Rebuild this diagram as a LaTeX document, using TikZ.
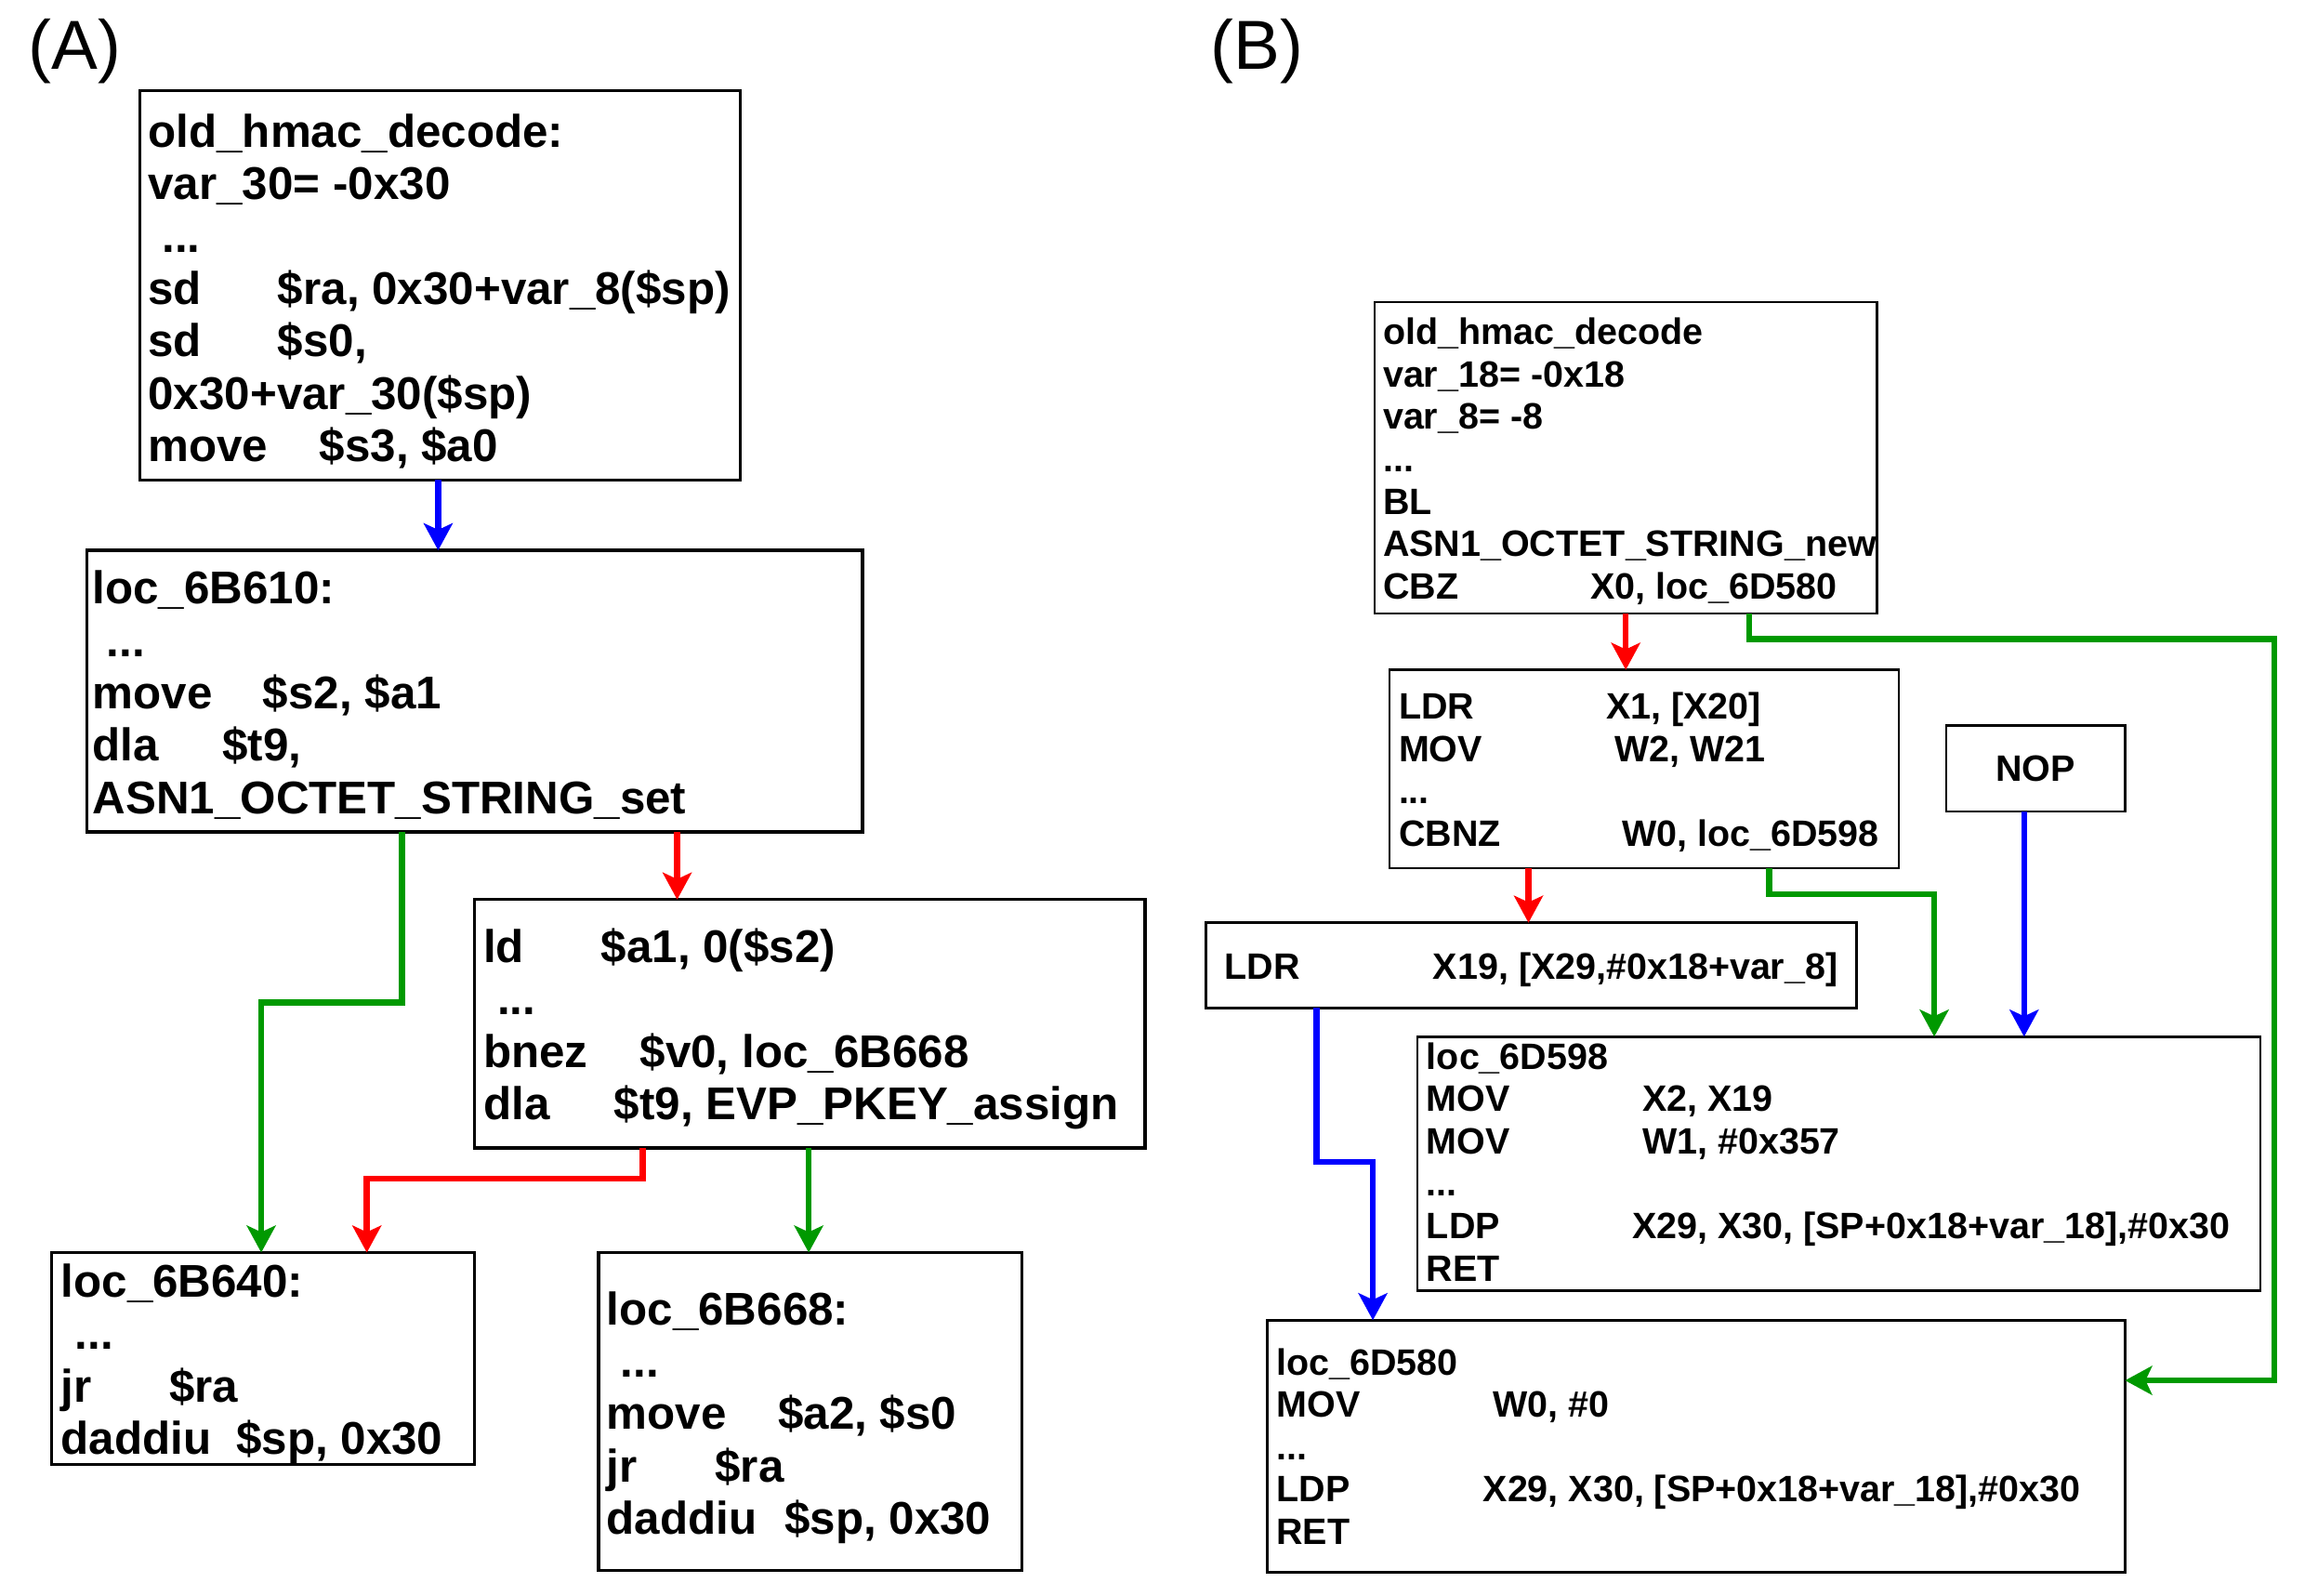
\documentclass[tikz,border=0pt]{standalone}
\usepackage{fontspec}
\setmainfont{Liberation Sans}
\usetikzlibrary{arrows.meta}
\definecolor{cred}{RGB}{255,0,0}
\definecolor{cgreen}{RGB}{0,153,0}
\definecolor{cblue}{RGB}{0,0,255}
\newlength\pxu \setlength\pxu{0.299pt}
\newcommand\ins[3]{\makebox[#2\pxu][l]{#1}#3}
\newcommand\dotsind{\hspace*{15\pxu}...}
\newcommand\atxt[1]{\parbox[t]{900\pxu}{\raggedright\fontsize{14.8pt}{16.9pt}\selectfont\bfseries #1}}
\newcommand\btxt[1]{\parbox[t]{900\pxu}{\raggedright\fontsize{11.84pt}{13.67pt}\selectfont\bfseries #1}}
\tikzset{
  box/.style n args={2}{draw, rectangle, anchor=north west, inner sep=0pt, outer sep=0pt,
     minimum width=#1*0.299pt, minimum height=#2*0.299pt},
  abox/.style={line width=1pt},
  bbox/.style={line width=0.75pt},
  txt/.style={anchor=base west, inner sep=0pt, outer sep=0pt},
  arr/.style={line width=1.95pt, -{Stealth[length=8.7pt, width=9.3pt, inset=2.1pt]}},
  rarr/.style={arr, cred},
  garr/.style={arr, cgreen},
  barr/.style={arr, cblue},
  lab/.style={anchor=base west, inner sep=0pt, font=\fontsize{22.4pt}{27pt}\selectfont}
}
\begin{document}
\begin{tikzpicture}[x=0.299pt, y=-0.299pt]
\path[use as bounding box, fill=white] (0,0) rectangle (2502.3,1721.7);

% labels
\node[lab] (labA) at (30,75) {(A)};
\node[lab] (labB) at (1306,75) {(B)};

% ---------- (A) boxes ----------
\node[box={648}{420}, abox] (a1) at (151,98) {};
\node[box={837}{304}, abox] (a2) at (94,594) {};
\node[box={724}{268}, abox] (a4) at (512,971) {};
\node[box={456}{229}, abox] (a3) at (56,1352) {};
\node[box={457}{343}, abox] (a5) at (646,1352) {};

\node[txt] (a1t) at (160,159) {\atxt{old\_hmac\_decode:\\
var\_30= -0x30\\
\dotsind\\
\ins{sd}{140}{\$ra, 0x30+var\_8(\$sp)}\\
\ins{sd}{140}{\$s0,}\\
0x30+var\_30(\$sp)\\
\ins{move}{185}{\$s3, \$a0}}};

\node[txt] (a2t) at (100,652) {\atxt{loc\_6B610:\\
\dotsind\\
\ins{move}{184}{\$s2, \$a1}\\
\ins{dla}{140}{\$t9,}\\
ASN1\_OCTET\_STRING\_set}};

\node[txt] (a4t) at (522,1039) {\atxt{\ins{ld}{127}{\$a1, 0(\$s2)}\\
\dotsind\\
\ins{bnez}{169}{\$v0, loc\_6B668}\\
\ins{dla}{141}{\$t9, EVP\_PKEY\_assign}}};

\node[txt] (a3t) at (66,1400) {\atxt{loc\_6B640:\\
\dotsind\\
\ins{jr}{117}{\$ra}\\
\ins{daddiu}{189}{\$sp, 0x30}}};

\node[txt] (a5t) at (655,1430) {\atxt{loc\_6B668:\\
\dotsind\\
\ins{move}{185}{\$a2, \$s0}\\
\ins{jr}{117}{\$ra}\\
\ins{daddiu}{192}{\$sp, 0x30}}};

% ---------- (B) boxes ----------
\node[box={542}{336}, bbox] (b1) at (1484,326) {};
\node[box={550}{214}, bbox] (b2) at (1500,723) {};
\node[box={193}{93}, bbox, font=\fontsize{11.84pt}{13.67pt}\selectfont\bfseries] (nop) at (2101,783) {NOP};
\node[box={702}{92}, bbox] (b3) at (1302,996) {};
\node[box={910}{274}, bbox] (b4) at (1530,1119) {};
\node[box={926}{272}, bbox] (b5) at (1368,1425) {};

\node[txt] (b1t) at (1493,372) {\btxt{old\_hmac\_decode\\
var\_18= -0x18\\
var\_8= -8\\
...\\
BL\\
ASN1\_OCTET\_STRING\_new\\
\ins{CBZ}{224}{X0, loc\_6D580}}};

\node[txt] (b2t) at (1510,776) {\btxt{\ins{LDR}{224}{X1, [X20]}\\
\ins{MOV}{233}{W2, W21}\\
...\\
\ins{CBNZ}{241}{W0, loc\_6D598}}};

\node[txt] (b3t) at (1322,1057) {\btxt{\ins{LDR}{225}{X19, [X29,\#0x18+var\_8]}}};

\node[txt] (b4t) at (1540,1154) {\btxt{loc\_6D598\\
\ins{MOV}{233}{X2, X19}\\
\ins{MOV}{233}{W1, \#0x357}\\
...\\
\ins{LDP}{222}{X29, X30, [SP+0x18+var\_18],\#0x30}\\
RET}};

\node[txt] (b5t) at (1378,1484) {\btxt{loc\_6D580\\
\ins{MOV}{234}{W0, \#0}\\
...\\
\ins{LDP}{223}{X29, X30, [SP+0x18+var\_18],\#0x30}\\
RET}};

% ---------- bend points ----------
\coordinate (ga) at (282,1082);
\coordinate (ra) at (396,1272);
\coordinate (gb1) at (2455,690);
\coordinate (gb2) at (2088,965);
\coordinate (bb) at (1482,1254);

% ---------- connectors (A) ----------
\draw[barr] (a1.south -| 473,0) -- (a2.north -| 473,0);
\draw[garr] (a2.south -| 434,0) |- (ga) -- (a3.north -| ga);
\draw[rarr] (a2.south -| 731,0) -- (a4.north -| 731,0);
\draw[rarr] (a4.south -| 694,0) |- (ra) -- (a3.north -| ra);
\draw[garr] (a4.south -| 873,0) -- (a5.north -| 873,0);

% ---------- connectors (B) ----------
\draw[rarr] (b1.south -| 1755,0) -- (b2.north -| 1755,0);
\draw[garr] (b1.south -| 1888,0) |- (gb1) |- (b5.east |- 0,1490);
\draw[rarr] (b2.south -| 1650,0) -- (b3.north -| 1650,0);
\draw[garr] (b2.south -| 1910,0) |- (gb2) -- (b4.north -| gb2);
\draw[barr] (nop.south -| 2185,0) -- (b4.north -| 2185,0);
\draw[barr] (b3.south -| 1421,0) |- (bb) -- (b5.north -| bb);
\end{tikzpicture}
\end{document}
